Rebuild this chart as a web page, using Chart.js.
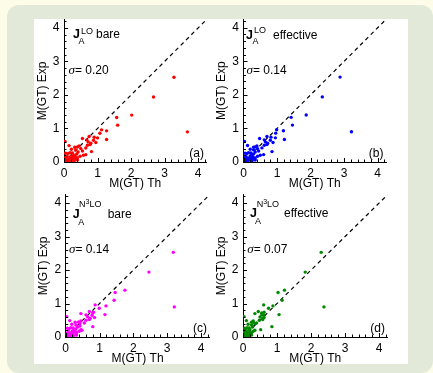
<!DOCTYPE html>
<html><head><meta charset="utf-8">
<script src="https://cdn.jsdelivr.net/npm/chart.js@4/dist/chart.umd.min.js"></script>
<style>
html,body{margin:0;padding:0;background:#fcfce9;width:433px;height:373px;overflow:hidden;}
#frame{position:absolute;left:7px;top:5px;width:426px;height:368px;background:#e3e9d9;border-radius:12px;}
#paper{position:absolute;left:34px;top:19px;width:374px;height:345px;background:#fff;}
canvas{position:absolute;left:0;top:0;}
</style></head><body>
<div id="frame"></div><div id="paper"></div>
<canvas id="ca" width="433" height="373"></canvas>
<canvas id="cb" width="433" height="373"></canvas>
<canvas id="cc" width="433" height="373"></canvas>
<canvas id="cd" width="433" height="373"></canvas>
<script>
// ---- data ----
const tickValues = [0, 1, 2, 3, 4];
const axisMax = 4.25;
const expY = [2.53,1.94,1.40,1.33,1.10,0.90,0.96,0.93,0.86,0.76,0.74,0.72,0.70,0.67,0.66,0.61,0.58,0.56,0.50,0.49,
              0.48,0.44,0.42,0.40,0.36,0.33,0.31,0.30,0.27,0.26,0.24,0.22,0.20,0.18,0.17,0.16,0.14,0.12,0.11,0.10,
              0.09,0.08,0.07,0.06,0.05,0.04,0.03,0.02,0.60,0.25,0.15,0.45,0.38,0.52,0.65,0.13,0.05,0.09,0.20,0.28];
const thA = [3.28,2.67,2.02,1.57,1.60,3.68,1.12,1.27,1.07,0.75,0.90,1.00,0.55,1.27,0.68,0.03,0.95,0.80,0.70,0.15,
             0.45,0.32,0.65,0.50,0.35,0.55,0.82,0.42,0.25,0.05,0.38,0.65,0.30,0.23,0.48,0.10,0.28,0.40,0.20,0.15,
             0.35,0.25,0.12,0.40,0.18,0.05,0.30,0.10,0.72,0.12,0.35,0.40,0.22,0.78,0.88,0.05,0.28,0.02,0.58,0.18];
const thB = [2.88,2.35,1.87,1.42,1.46,3.22,0.99,1.19,0.96,0.70,0.82,0.95,0.48,1.22,0.62,0.03,0.88,0.72,0.62,0.12,
             0.40,0.30,0.55,0.42,0.30,0.45,0.85,0.35,0.22,0.05,0.30,0.60,0.25,0.20,0.42,0.08,0.25,0.35,0.17,0.12,
             0.30,0.22,0.10,0.35,0.15,0.04,0.25,0.08,0.65,0.10,0.28,0.35,0.20,0.70,0.80,0.04,0.24,0.02,0.50,0.15];
const thC = [3.18,2.46,1.75,1.46,1.43,3.21,0.87,1.19,0.99,0.70,0.82,0.80,0.45,1.16,0.60,0.03,0.85,0.72,0.60,0.12,
             0.45,0.28,0.55,0.42,0.30,0.42,0.80,0.35,0.22,0.05,0.30,0.45,0.25,0.20,0.40,0.10,0.22,0.32,0.18,0.12,
             0.30,0.20,0.10,0.32,0.15,0.05,0.22,0.08,0.65,0.10,0.30,0.38,0.18,0.70,0.78,0.05,0.22,0.02,0.48,0.15];
const thD = [2.30,1.83,1.22,1.03,1.15,2.38,0.61,0.88,0.75,0.45,0.62,0.55,0.35,1.06,0.55,0.03,0.62,0.58,0.48,0.10,
             0.30,0.25,0.40,0.35,0.25,0.28,0.85,0.28,0.18,0.05,0.20,0.52,0.18,0.15,0.30,0.08,0.20,0.25,0.12,0.10,
             0.22,0.15,0.08,0.25,0.10,0.04,0.18,0.05,0.50,0.08,0.22,0.30,0.15,0.58,0.62,0.04,0.15,0.02,0.35,0.12];
const panelTags = ['(a)', '(b)', '(c)', '(d)'];
const sigmaValues = ['0.20', '0.14', '0.14', '0.07'];
const orders = ['LO', 'LO', 'N3LO', 'N3LO'];
const variants = ['bare', 'effective', 'bare', 'effective'];
const xTitle = 'M(GT) Th';
const yTitle = 'M(GT) Exp';

// ---- layout / style ----
const SANS = '"Liberation Sans", Arial, sans-serif';
const SERIF = '"Liberation Serif", "Times New Roman", serif';
const WY = 29, HX = 29, PAGE_W = 433, PAGE_H = 373;
const layouts = [
  {id:'ca', th:thA, color:'#ff0000', L:64,    T:19.6,  R:206.5, B:162,
   lab:{jx:9,   jy:18.5, supx:17,   supy:14, subx:14.5, suby:24.5, wx:32,   wy:18.5, sx:4.5, sy:54.5}},
  {id:'cb', th:thB, color:'#0000ff', L:243.5, T:19.4,  R:386,   B:162,
   lab:{jx:2.5, jy:19.5, supx:10.5, supy:14, subx:9,    suby:25,   wx:29.5, wy:19.5, sx:3,   sy:54.5}},
  {id:'cc', th:thC, color:'#ff00ff', L:65.7,  T:194.8, R:209.5, B:337,
   lab:{jx:7,   jy:23,   supx:13.3, supy:12, subx:12.6, suby:30,   wx:42,   wy:23,   sx:3.3, sy:58.5}},
  {id:'cd', th:thD, color:'#008800', L:243,   T:194.8, R:387.5, B:337,
   lab:{jx:7,   jy:22.5, supx:13.7, supy:12, subx:12,   suby:29.5, wx:41,   wy:22.5, sx:4.3, sy:58}}
];

function makeDecor(idx) {
  const lay = layouts[idx];
  return {
    id: 'decor' + idx,
    afterDraw(chart) {
      const ctx = chart.ctx, ca = chart.chartArea;
      const xs = chart.scales.x, ys = chart.scales.y;
      ctx.save();
      // inward major/minor ticks
      ctx.strokeStyle = '#000'; ctx.lineWidth = 1;
      ctx.beginPath();
      for (let i = 0; i <= 21; i++) {
        const v = i * 0.2;
        const len = (i % 5 === 0) ? 4 : 2.5;
        const px = Math.round(xs.getPixelForValue(v)) + 0.5;
        ctx.moveTo(px, ca.bottom); ctx.lineTo(px, ca.bottom - len);
        const py = Math.round(ys.getPixelForValue(v)) + 0.5;
        ctx.moveTo(ca.left, py); ctx.lineTo(ca.left + len, py);
      }
      ctx.stroke();
      // label text
      const lb = lay.lab, L = ca.left, T = ca.top;
      ctx.fillStyle = '#000';
      ctx.textAlign = 'left'; ctx.textBaseline = 'alphabetic';
      ctx.font = 'bold 12.5px ' + SANS;
      ctx.fillText('J', L + lb.jx, T + lb.jy);
      ctx.font = '9px ' + SANS;
      if (orders[idx] === 'LO') {
        ctx.fillText('LO', L + lb.supx, T + lb.supy);
      } else {
        let x = L + lb.supx;
        ctx.fillText('N', x, T + lb.supy); x += ctx.measureText('N').width;
        ctx.font = '7px ' + SANS;
        ctx.fillText('3', x, T + lb.supy - 3); x += ctx.measureText('3').width;
        ctx.font = '9px ' + SANS;
        ctx.fillText('LO', x, T + lb.supy);
      }
      ctx.fillText('A', L + lb.subx, T + lb.suby);
      ctx.font = '12px ' + SANS;
      ctx.fillText(variants[idx], L + lb.wx, T + lb.wy);
      // sigma
      ctx.font = 'italic 13px ' + SERIF;
      ctx.fillText('\u03C3', L + lb.sx, T + lb.sy);
      const sw = ctx.measureText('\u03C3').width;
      ctx.font = '12px ' + SANS;
      ctx.fillText('= ' + sigmaValues[idx], L + lb.sx + sw, T + lb.sy);
      // panel tag
      ctx.textAlign = 'right';
      ctx.fillText(panelTags[idx], ca.right - 2.5, ca.bottom - 5);
      ctx.restore();
    }
  };
}

function axisOpts(title, isX) {
  return {
    type: 'linear', min: 0, max: axisMax,
    afterBuildTicks: s => { s.ticks = tickValues.map(v => ({value: v})); },
    afterFit: s => { if (isX) s.height = HX; else s.width = WY; },
    grid: {display: true, drawOnChartArea: false, drawTicks: false},
    border: {display: true, color: '#000', width: 1},
    ticks: {padding: isX ? 4 : 4.5, color: '#000', font: {family: SANS, size: 12}, maxRotation: 0, autoSkip: false},
    title: {display: true, text: title, color: '#000', font: {family: SANS, size: 12}, padding: 0}
  };
}

layouts.forEach((lay, idx) => {
  const pts = expY.map((y, i) => ({x: lay.th[i], y: y}));
  const diag = [{x: 0, y: 0}, {x: axisMax, y: axisMax}];
  new Chart(document.getElementById(lay.id), {
    type: 'scatter',
    data: {datasets: [
      {data: pts, backgroundColor: lay.color, borderWidth: 0, pointRadius: 1.7, pointStyle: 'circle'},
      {data: diag, showLine: true, borderColor: '#000', borderWidth: 1.2, borderDash: [4, 3.5], pointRadius: 0, fill: false}
    ]},
    options: {
      responsive: false, animation: false, events: [],
      layout: {padding: {left: lay.L - WY, top: lay.T, right: PAGE_W - lay.R, bottom: PAGE_H - lay.B - HX}},
      plugins: {legend: {display: false}, tooltip: {enabled: false}},
      scales: {x: axisOpts(xTitle, true), y: axisOpts(yTitle, false)}
    },
    plugins: [makeDecor(idx)]
  });
});
</script>
</body></html>
